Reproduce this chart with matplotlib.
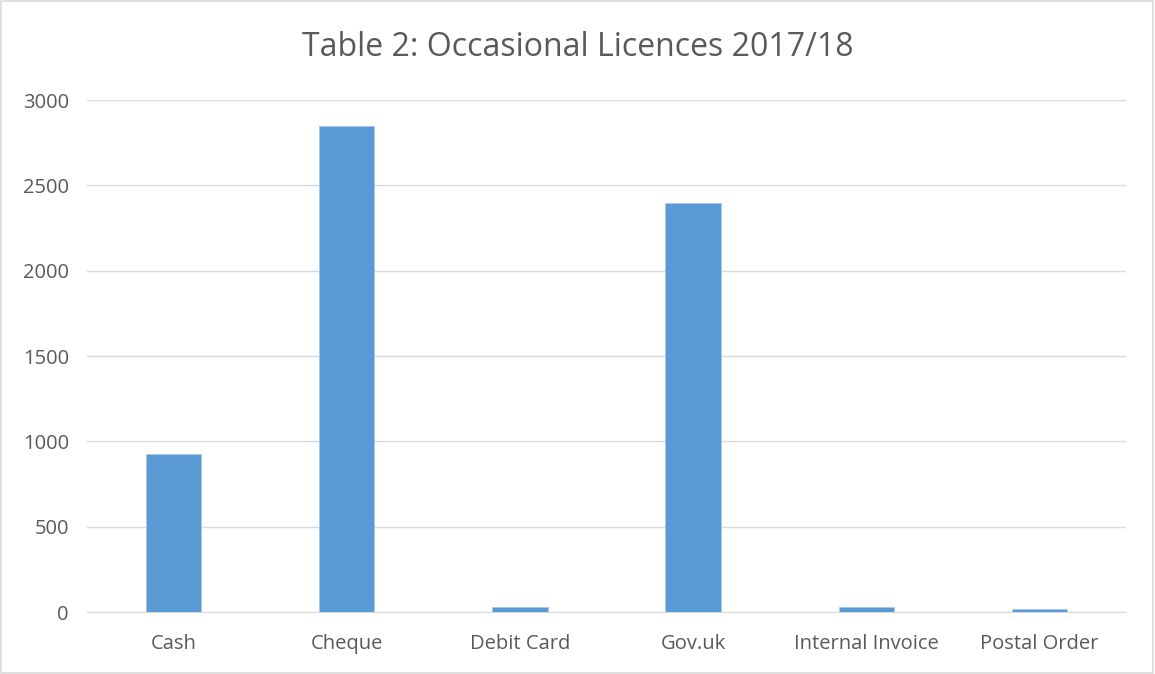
import matplotlib.pyplot as plt

# payment methods and number of licences
methods = ["Cash", "Cheque", "Debit Card", "Gov.uk", "Internal Invoice", "Postal Order"]
licences = [925, 2847, 28, 2396, 28, 18]
yticks = [0, 500, 1000, 1500, 2000, 2500, 3000]

plt.rcParams['font.family'] = ['Open Sans', 'DejaVu Sans']

fig = plt.figure(figsize=(11.55, 6.74), dpi=100)
ax = fig.add_axes([87/1155, 62/674, 1039/1155, 512/674])

x = range(len(methods))
ax.bar(x, licences, width=0.32, color="#5B9BD5", edgecolor="#A9C8EA", linewidth=0.6, zorder=3)

ax.set_xlim(-0.5, len(methods) - 0.5)
ax.set_ylim(0, 3000)
ax.set_yticks(yticks)
ax.set_xticks(list(x))
ax.set_xticklabels(methods)
ax.tick_params(axis="both", length=0, colors="#595959", labelsize=14.5)
ax.tick_params(axis="x", pad=16)
ax.tick_params(axis="y", pad=13)
ax.grid(axis="y", color="#D9D9D9", linewidth=1, zorder=0)
for s in ["top", "right", "left"]:
    ax.spines[s].set_visible(False)
ax.spines["bottom"].set_color("#D9D9D9")

fig.suptitle("Table 2: Occasional Licences 2017/18", y=0.954, fontsize=23, color="#595959")

# thin grey frame round the whole chart
fig.patches.append(plt.Rectangle((0.001, 0.001), 0.997, 0.997, transform=fig.transFigure,
                                 fill=False, edgecolor="#D9D9D9", linewidth=1.2))

fig.savefig("out.png", dpi=100)
